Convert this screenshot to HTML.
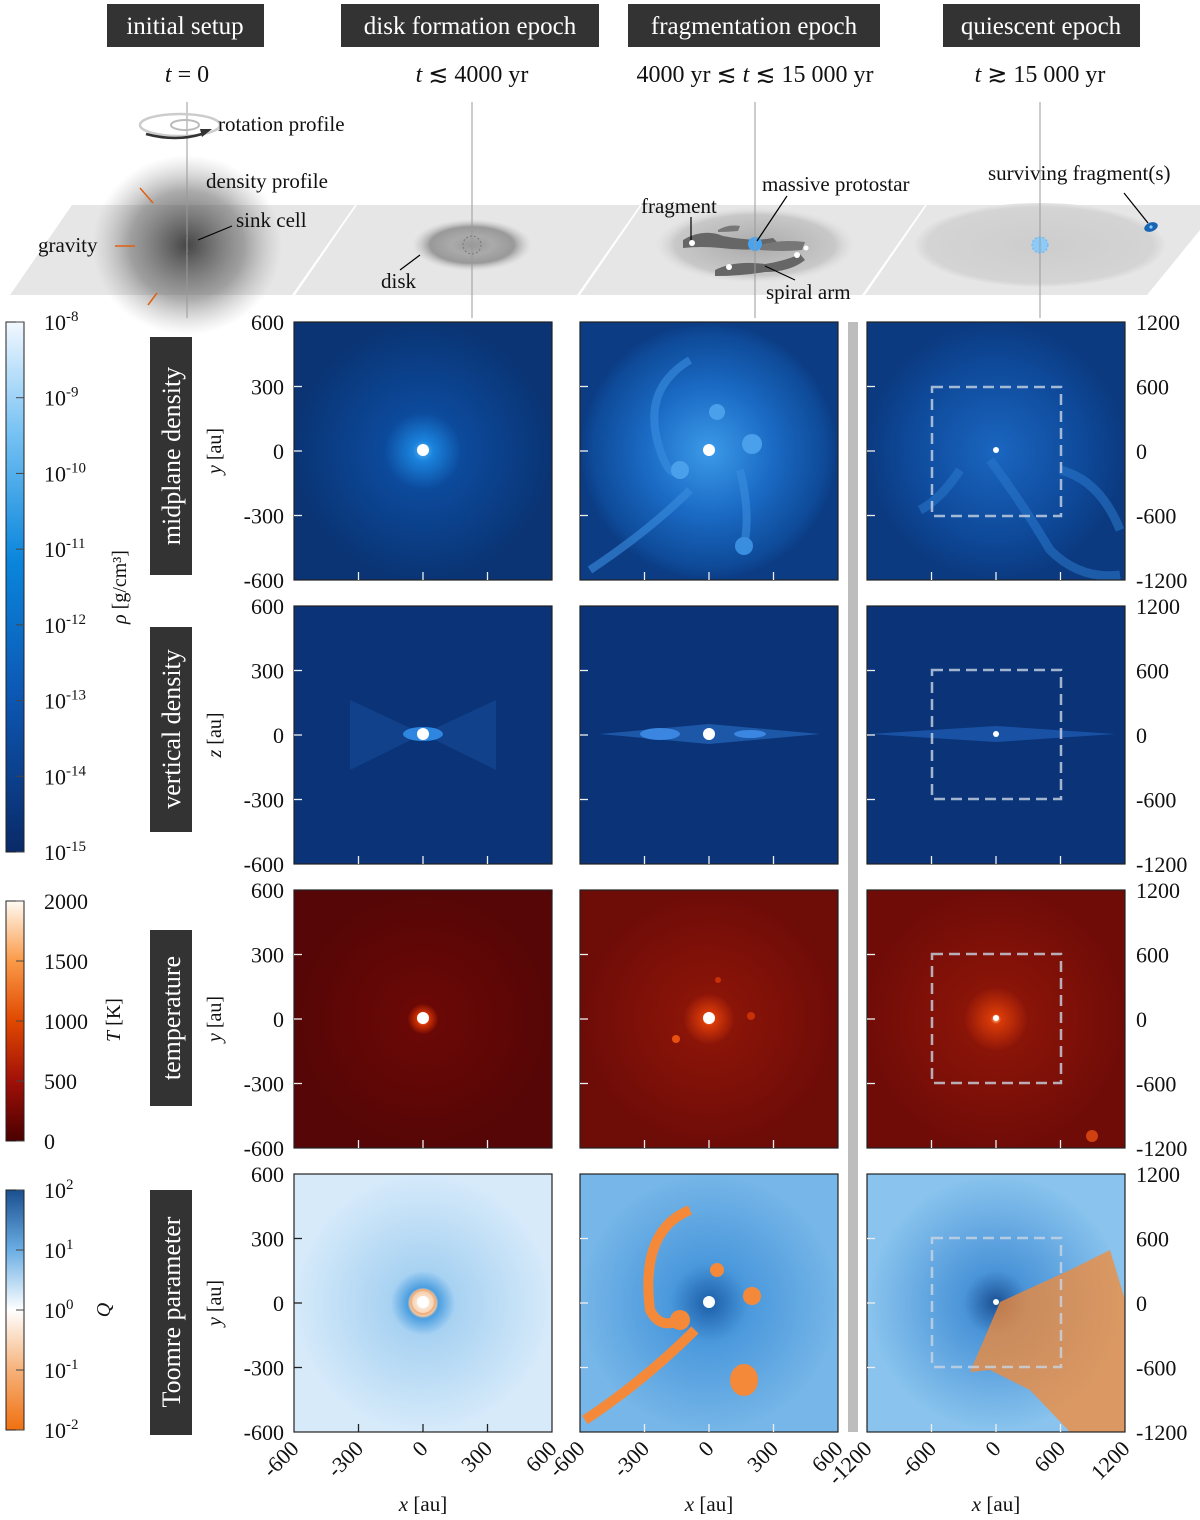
<!DOCTYPE html>
<html><head><meta charset="utf-8"><style>
body{margin:0;background:#fff}
svg{display:block;font-family:"Liberation Serif",serif}
</style></head><body>
<svg id="fig" width="1200" height="1520" viewBox="0 0 1200 1520" xmlns="http://www.w3.org/2000/svg">
<defs>
<radialGradient id="cloud"><stop offset="0" stop-color="#333" stop-opacity=".9"/><stop offset=".6" stop-color="#666" stop-opacity=".55"/><stop offset="1" stop-color="#999" stop-opacity="0"/></radialGradient>
<radialGradient id="diskg"><stop offset="0" stop-color="#999"/><stop offset=".35" stop-color="#aaa"/><stop offset=".7" stop-color="#999"/><stop offset="1" stop-color="#ccc" stop-opacity="0"/></radialGradient>
<radialGradient id="disk3"><stop offset="0" stop-color="#aaa"/><stop offset=".8" stop-color="#c8c8c8"/><stop offset="1" stop-color="#ddd" stop-opacity="0"/></radialGradient>
<radialGradient id="disk4"><stop offset="0" stop-color="#cdcdcd"/><stop offset=".9" stop-color="#d4d4d4"/><stop offset="1" stop-color="#e4e4e4"/></radialGradient>
<radialGradient id="dmid1"><stop offset="0" stop-color="#5ab4f4"/><stop offset=".08" stop-color="#1a82dc"/><stop offset=".3" stop-color="#0c4a9c"/><stop offset="1" stop-color="#0a3474"/></radialGradient>
<radialGradient id="dmid2"><stop offset="0" stop-color="#3c9ae8"/><stop offset=".5" stop-color="#1a6ac4"/><stop offset=".9" stop-color="#0e4a98"/><stop offset="1" stop-color="#0c3c84"/></radialGradient>
<radialGradient id="dmid3"><stop offset="0" stop-color="#1a66c0"/><stop offset=".7" stop-color="#0e4898"/><stop offset="1" stop-color="#0b3a80"/></radialGradient>
<radialGradient id="t1"><stop offset="0" stop-color="#ffe0c0"/><stop offset=".05" stop-color="#d03000"/><stop offset=".12" stop-color="#6a0806"/><stop offset="1" stop-color="#560606"/></radialGradient>
<radialGradient id="t2"><stop offset="0" stop-color="#ffd0a0"/><stop offset=".05" stop-color="#d83a08"/><stop offset=".2" stop-color="#8a1408"/><stop offset="1" stop-color="#6e0c08"/></radialGradient>
<radialGradient id="t3"><stop offset="0" stop-color="#ffd0a0"/><stop offset=".04" stop-color="#d83a08"/><stop offset=".25" stop-color="#8a1408"/><stop offset="1" stop-color="#700c08"/></radialGradient>
<radialGradient id="q1"><stop offset="0" stop-color="#fff"/><stop offset=".1" stop-color="#f4c8a0"/><stop offset=".12" stop-color="#4a9ee0"/><stop offset="0.25" stop-color="#a8d2f2"/><stop offset="1" stop-color="#d6eafa"/></radialGradient>
<radialGradient id="q2"><stop offset="0" stop-color="#1a5ea8"/><stop offset=".3" stop-color="#4a98dc"/><stop offset="1" stop-color="#76b6e8"/></radialGradient>
<radialGradient id="q3"><stop offset="0" stop-color="#1a4f94"/><stop offset=".25" stop-color="#4a94d8"/><stop offset="1" stop-color="#8ac4ee"/></radialGradient>
<linearGradient id="cbD" x1="0" y1="1" x2="0" y2="0"><stop offset="0" stop-color="#0a2a68"/><stop offset=".3" stop-color="#0c58b4"/><stop offset=".55" stop-color="#0a86dc"/><stop offset=".8" stop-color="#7cc4f4"/><stop offset="1" stop-color="#f2f8ff"/></linearGradient>
<linearGradient id="cbT" x1="0" y1="1" x2="0" y2="0"><stop offset="0" stop-color="#4a0000"/><stop offset=".25" stop-color="#a01008"/><stop offset=".5" stop-color="#e04800"/><stop offset=".75" stop-color="#fa9a48"/><stop offset="1" stop-color="#fffaf2"/></linearGradient>
<linearGradient id="cbQ" x1="0" y1="1" x2="0" y2="0"><stop offset="0" stop-color="#f07010"/><stop offset=".25" stop-color="#f6b27a"/><stop offset=".5" stop-color="#ffffff"/><stop offset=".75" stop-color="#6aaee4"/><stop offset="1" stop-color="#1a4f90"/></linearGradient>
</defs>

<g font-size="25" fill="#fff" text-anchor="middle">
<rect x="107" y="4" width="157" height="43" fill="#333"/><text x="185" y="34">initial setup</text>
<rect x="341" y="4" width="258" height="43" fill="#333"/><text x="470" y="34">disk formation epoch</text>
<rect x="628" y="4" width="252" height="43" fill="#333"/><text x="754" y="34">fragmentation epoch</text>
<rect x="943" y="4" width="197" height="43" fill="#333"/><text x="1041" y="34">quiescent epoch</text>
</g>
<g font-size="24" fill="#111" text-anchor="middle">
<text x="187" y="82"><tspan font-style="italic">t</tspan> = 0</text>
<text x="472" y="82"><tspan font-style="italic">t</tspan> ≲ 4000 yr</text>
<text x="755" y="82">4000 yr ≲ <tspan font-style="italic">t</tspan> ≲ 15 000 yr</text>
<text x="1040" y="82"><tspan font-style="italic">t</tspan> ≳ 15 000 yr</text>
</g>

<g>
<polygon points="10,295 72,205 355,205 292,295" fill="#e6e6e6"/>
<polygon points="295,295 357,205 640,205 577,295" fill="#e6e6e6"/>
<polygon points="580,295 642,205 925,205 862,295" fill="#e6e6e6"/>
<polygon points="865,295 927,205 1200,205 1200,230 1147,295" fill="#e6e6e6"/>
<ellipse cx="187" cy="245" rx="95" ry="90" fill="url(#cloud)"/>
<ellipse cx="472" cy="245" rx="60" ry="26" fill="url(#diskg)"/>
<ellipse cx="755" cy="245" rx="100" ry="38" fill="url(#disk3)"/>
<path d="M683,240 q20,-12 40,-4 q30,6 50,2 l8,8 q-30,6 -60,2 q-20,-2 -38,0z" fill="#666"/>
<path d="M715,270 q20,-10 50,-6 q20,-3 35,-10 l5,6 q-15,12 -40,12 q-25,4 -50,4z" fill="#666"/>
<path d="M718,230 q10,-6 22,-4 l-2,5 q-10,1 -20,1z M760,245 q20,-6 45,-3 l-3,8 q-20,2 -42,0z" fill="#777"/>
<circle cx="692" cy="243" r="3" fill="#fff"/><circle cx="729" cy="267" r="3" fill="#fff"/><circle cx="797" cy="255" r="3" fill="#fff"/><circle cx="806" cy="248" r="2.5" fill="#fff"/>
<circle cx="755" cy="244" r="7" fill="#48a4f0"/>
<ellipse cx="1040" cy="245" rx="125" ry="42" fill="url(#disk4)"/>
<circle cx="1040" cy="245" r="8" fill="#8ccaf8" stroke="#6ab4f0" stroke-dasharray="2 2"/>
<ellipse cx="1151" cy="227" rx="7" ry="4.5" fill="#1a64b4" transform="rotate(-20 1151 227)"/><circle cx="1151" cy="227" r="1.6" fill="#8cf"/>
<g stroke="#999" stroke-width="1"><line x1="187" y1="102" x2="187" y2="318"/><line x1="472" y1="102" x2="472" y2="318"/><line x1="755" y1="102" x2="755" y2="318"/><line x1="1040" y1="102" x2="1040" y2="318"/></g>
<ellipse cx="180" cy="125" rx="40" ry="11" fill="none" stroke="#ccc" stroke-width="2.5"/>
<ellipse cx="185" cy="125" rx="14" ry="5" fill="none" stroke="#bbb" stroke-width="2"/>
<path d="M146,134 q30,8 56,0" fill="none" stroke="#333" stroke-width="2.5"/><polygon points="200,129 212,129 202,137" fill="#333"/>
<circle cx="187" cy="245" r="9" fill="none" stroke="#555" stroke-dasharray="2 2"/>
<circle cx="472" cy="245" r="9" fill="none" stroke="#777" stroke-dasharray="2 2"/>
<g stroke="#e06010" stroke-width="1.5" fill="none"><line x1="140" y1="188" x2="153" y2="203"/><line x1="115" y1="246" x2="135" y2="246"/><line x1="148" y1="305" x2="157" y2="293"/></g>
<g stroke="#000" stroke-width="1.2"><line x1="198" y1="240" x2="232" y2="226"/><line x1="400" y1="270" x2="420" y2="255"/><line x1="691" y1="240" x2="691" y2="217"/><line x1="757" y1="241" x2="787" y2="196"/><line x1="765" y1="266" x2="795" y2="280"/><line x1="1148" y1="223" x2="1124" y2="193"/></g>
<g font-size="21" fill="#111">
<text x="218" y="131">rotation profile</text><text x="206" y="188">density profile</text><text x="236" y="227">sink cell</text><text x="38" y="252">gravity</text><text x="381" y="288">disk</text>
<text x="641" y="213">fragment</text><text x="762" y="191">massive protostar</text><text x="766" y="299">spiral arm</text><text x="988" y="180">surviving fragment(s)</text>
</g>
</g>

<rect x="848" y="322" width="10" height="1110" fill="#bdbdbd"/>

<g font-size="26" fill="#fff" text-anchor="middle">
<rect x="150" y="337" width="42" height="238" fill="#333"/><text transform="translate(180,456) rotate(-90)">midplane density</text>
<rect x="150" y="627" width="42" height="205" fill="#333"/><text transform="translate(180,729) rotate(-90)">vertical density</text>
<rect x="150" y="930" width="42" height="176" fill="#333"/><text transform="translate(180,1018) rotate(-90)">temperature</text>
<rect x="150" y="1190" width="42" height="245" fill="#333"/><text transform="translate(180,1312) rotate(-90)">Toomre parameter</text>
</g>
<g font-size="20" fill="#111" text-anchor="middle">
<text transform="translate(221,451) rotate(-90)"><tspan font-style="italic">y</tspan> [au]</text>
<text transform="translate(221,735) rotate(-90)"><tspan font-style="italic">z</tspan> [au]</text>
<text transform="translate(221,1019) rotate(-90)"><tspan font-style="italic">y</tspan> [au]</text>
<text transform="translate(221,1303) rotate(-90)"><tspan font-style="italic">y</tspan> [au]</text>
<text transform="translate(126,587) rotate(-90)"><tspan font-style="italic">ρ</tspan> [g/cm³]</text>
<text transform="translate(120,1020) rotate(-90)"><tspan font-style="italic">T</tspan> [K]</text>
<text transform="translate(110,1310) rotate(-90)" font-style="italic">Q</text>
</g>

<g id="panels">
<rect x="294" y="322" width="258" height="258" fill="url(#dmid1)"/>
<rect x="580" y="322" width="258" height="258" fill="url(#dmid2)"/>
<g fill="none" stroke="#3a8ee0" stroke-width="8" opacity=".6">
<path d="M690,360 q-50,30 -30,90 q10,30 20,20"/><path d="M590,570 q60,-40 100,-80"/><path d="M740,470 q10,40 5,70"/></g>
<circle cx="717" cy="412" r="8" fill="#4aa0ea"/><circle cx="752" cy="444" r="10" fill="#4aa0ea"/><circle cx="680" cy="470" r="9" fill="#4aa0ea"/><circle cx="744" cy="546" r="9" fill="#3a8ee0"/>
<rect x="867" y="322" width="258" height="258" fill="url(#dmid3)"/>
<g fill="none" stroke="#2a78cc" stroke-width="9" opacity=".55"><path d="M990,460 q30,40 60,90 q30,30 70,25"/><path d="M960,470 q-20,30 -40,40"/><path d="M1060,470 q40,10 60,60"/></g>
<rect x="294" y="606" width="258" height="258" fill="#0b3478"/>
<path d="M350,700 L423,734 L350,770z M496,700 L423,734 L496,770z" fill="#1e5cb0" opacity=".35"/>
<ellipse cx="423" cy="734" rx="20" ry="7" fill="#2e86e0"/>
<rect x="580" y="606" width="258" height="258" fill="#0b3478"/>
<path d="M600,734 L709,724 L820,734 L709,744z" fill="#2a70c8" opacity=".6"/>
<ellipse cx="660" cy="734" rx="20" ry="6" fill="#3a86e0"/><ellipse cx="750" cy="734" rx="16" ry="4" fill="#3a86e0"/>
<rect x="867" y="606" width="258" height="258" fill="#0b3478"/>
<path d="M870,734 L996,726 L1115,734 L996,742z" fill="#2060b8" opacity=".7"/>
<rect x="294" y="890" width="258" height="258" fill="url(#t1)"/>
<rect x="580" y="890" width="258" height="258" fill="url(#t2)"/>
<circle cx="676" cy="1039" r="4" fill="#e85010"/><circle cx="751" cy="1016" r="4" fill="#c83008"/><circle cx="718" cy="980" r="3" fill="#c83008"/>
<rect x="867" y="890" width="258" height="258" fill="url(#t3)"/>
<circle cx="1092" cy="1136" r="6" fill="#d04010"/>
<rect x="294" y="1174" width="258" height="258" fill="url(#q1)"/>
<rect x="580" y="1174" width="258" height="258" fill="url(#q2)"/>
<g fill="none" stroke="#f5893a" stroke-width="10"><path d="M690,1210 q-50,20 -40,100 q10,20 30,10"/><path d="M585,1420 q60,-40 110,-90"/></g>
<circle cx="717" cy="1270" r="7" fill="#f5893a"/><circle cx="752" cy="1296" r="9" fill="#f5893a"/><circle cx="680" cy="1320" r="10" fill="#f5893a"/><ellipse cx="744" cy="1380" rx="14" ry="16" fill="#f5893a"/>
<rect x="867" y="1174" width="258" height="258" fill="url(#q3)"/>
<path d="M1000,1302 L1070,1270 L1110,1250 L1125,1300 L1125,1432 L1070,1432 L1030,1390 L990,1370 L970,1372z" fill="#f58a34" opacity=".75"/>
<g fill="none" stroke="#c8d4e4" stroke-width="2.5" stroke-dasharray="11 6" opacity=".8">
<rect x="932" y="387" width="129" height="129"/><rect x="932" y="670" width="129" height="129"/><rect x="932" y="954" width="129" height="129"/><rect x="932" y="1238" width="129" height="129"/></g>
<g fill="#fff"><circle cx="423" cy="450" r="6"/><circle cx="709" cy="450" r="6"/><circle cx="996" cy="450" r="3"/>
<circle cx="423" cy="734" r="6"/><circle cx="709" cy="734" r="6"/><circle cx="996" cy="734" r="3"/>
<circle cx="423" cy="1018" r="6"/><circle cx="709" cy="1018" r="6"/><circle cx="996" cy="1018" r="3"/>
<circle cx="423" cy="1302" r="6"/><circle cx="709" cy="1302" r="6"/><circle cx="996" cy="1302" r="3"/></g>
<circle cx="423" cy="1302" r="12" fill="none" stroke="#f0b080" stroke-width="2"/>
</g>
<g id="axes"></g>
</svg>
<script>
const leftTicks=["600","300","0","-300","-600"];
const rightTicks=["1200","600","0","-600","-1200"];
const xTicks1=["-600","-300","0","300","600"];
const xTicks3=["-1200","-600","0","600","1200"];
const densTicks=["-8","-9","-10","-11","-12","-13","-14","-15"];
const tempTicks=["2000","1500","1000","500","0"];
const qTicks=["2","1","0","-1","-2"];
const NS="http://www.w3.org/2000/svg";
const ax=document.getElementById('axes');
function mk(tag,attrs,txt){const e=document.createElementNS(NS,tag);for(const k in attrs)e.setAttribute(k,attrs[k]);if(txt!=null)e.textContent=txt;ax.appendChild(e);return e;}
const cols=[294,580,867],rows=[322,606,890,1174],S=258;
function pos(i,n,a,b){return a+(b-a)*i/(n-1);}
rows.forEach((ry,ri)=>{cols.forEach((cx,ci)=>{
 const fr=mk('rect',{x:cx,y:ry,width:S,height:S,fill:'none',stroke:'#222','stroke-width':1.2});
 
 
 const col=ri===3&&ci===0?'#222':'#eee';
 for(let i=1;i<4;i++){const p=cx+S*i/4;mk('line',{x1:p,y1:ry+S,x2:p,y2:ry+S-8,stroke:col,'stroke-width':1.3});
  const q=ry+S*i/4;mk('line',{x1:cx,y1:q,x2:cx+8,y2:q,stroke:col,'stroke-width':1.3});}
});
 leftTicks.forEach((t,i)=>{const el=mk('text',{x:284,y:pos(i,leftTicks.length,ry,ry+S)+8,'font-size':22,'text-anchor':'end',fill:'#111'},t);
  
  });
 rightTicks.forEach((t,i)=>{const el=mk('text',{x:1136,y:pos(i,rightTicks.length,ry,ry+S)+8,'font-size':22,fill:'#111'},t);
  
  });
});
[[294,xTicks1],[580,xTicks1],[867,xTicks3]].forEach(([cx,arr])=>{arr.forEach((t,i)=>{const x=pos(i,arr.length,cx,cx+S),y=1450;
 const el=mk('text',{x:x+6,y:y,'font-size':22,'text-anchor':'end',fill:'#111',transform:`rotate(-45 ${x+6} ${y})`},t);
 
 });
 const xl=mk('text',{x:cx+S/2,y:1511,'font-size':21,'text-anchor':'middle',fill:'#111'});xl.innerHTML='<tspan font-style="italic">x</tspan> [au]';
 
 });
function cbar(y0,y1,grad,labels,fmt,name){const r=mk('rect',{x:6,y:y0,width:18,height:y1-y0,fill:`url(#${grad})`,stroke:'#222','stroke-width':1});
 
 
 labels.forEach((t,i)=>{const y=pos(i,labels.length,y0,y1);mk('line',{x1:16,y1:y,x2:24,y2:y,stroke:'#444'});
  const el=mk('text',{x:44,y:y+8,'font-size':22,fill:'#111'});
  el.innerHTML=fmt?`10<tspan dy="-9" font-size="15">${t}</tspan>`:t;
  
  });}
cbar(322,852,'cbD',densTicks,true,'density-colorbar');
cbar(901,1141,'cbT',tempTicks,false,'temperature-colorbar');
cbar(1190,1430,'cbQ',qTicks,true,'toomre-colorbar');
</script>
</body></html>
